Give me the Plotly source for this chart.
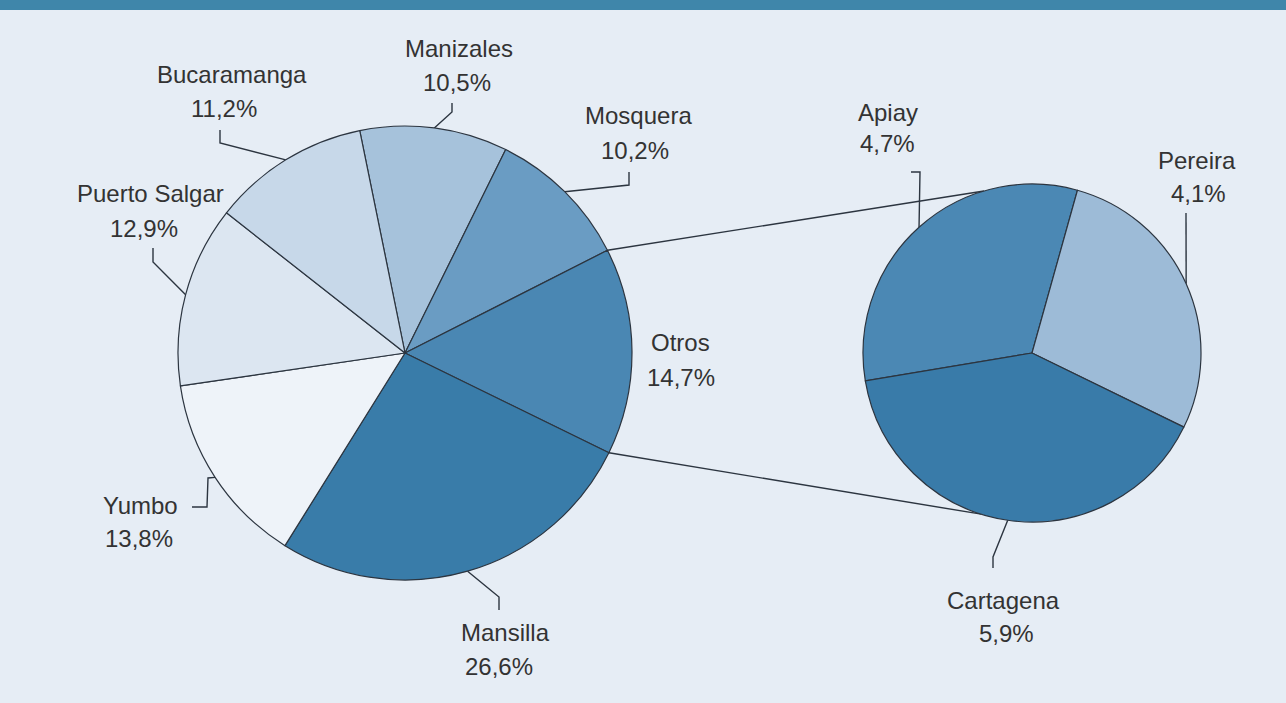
import math
import plotly.graph_objects as go

W, H = 1286, 703

# Main pie: share by plant (%)
main_labels = ["Manizales", "Mosquera", "Otros", "Mansilla", "Yumbo", "Puerto Salgar", "Bucaramanga"]
main_values = [10.5, 10.2, 14.7, 26.6, 13.8, 12.9, 11.2]
main_colors = ["#a6c2db", "#6a9cc3", "#4a87b3", "#397ca9", "#eef3f9", "#dce6f1", "#c7d8e9"]

# Breakdown of "Otros" (%)
sub_labels = ["Apiay", "Pereira", "Cartagena"]
sub_values = [4.7, 4.1, 5.9]
sub_colors = ["#4b88b4", "#9dbbd7", "#397ba9"]

# Geometry in pixels
MAIN_C, MAIN_R = (405, 353), 227
SUB_C, SUB_R = (1032, 353), 169
MAIN_START = 101.5    # math angle (deg) where the first slice starts; slices run clockwise
SUB_START = 189.5
SUB_LINK_ANGLES = (106.5, -107.5)   # where the connector lines meet the small pie

TEXT = "#333333"
EDGE = "#2c3540"
BG = "#e6edf5"
FONT = "Liberation Sans, Arial, sans-serif"

# Label placement: name centre, percentage centre, leader elbow points
main_layout = {
    "Manizales":     ((459, 48), (457, 82), [(452, 103), (452, 112)]),
    "Mosquera":      ((638, 115), (635, 150), [(629, 172), (629, 185)]),
    "Otros":         ((680, 342), (681, 377), None),
    "Mansilla":      ((505, 632), (499, 666), [(499, 610), (499, 597)]),
    "Yumbo":         ((140, 505), (139, 538), [(192, 507), (207, 507), (208, 478)]),
    "Puerto Salgar": ((150, 193), (144, 228), [(153, 248), (153, 262)]),
    "Bucaramanga":   ((232, 74), (224, 108), [(220, 130), (220, 143)]),
}
sub_layout = {
    "Apiay":     ((888, 112), (887, 143), [(911, 172), (920, 172)]),
    "Pereira":   ((1197, 160), (1198, 193), [(1186, 213)]),
    "Cartagena": ((1003, 600), (1006, 633), [(993, 568), (993, 557)]),
}


def slice_angles(values, start):
    total = sum(values)
    spans, a = [], start
    for v in values:
        b = a - v / total * 360.0
        spans.append((a, b))
        a = b
    return spans


def on_circle(c, r, ang):
    t = math.radians(ang)
    return (c[0] + r * math.cos(t), c[1] - r * math.sin(t))


def domain(c, r):
    return dict(x=[(c[0] - r) / W, (c[0] + r) / W],
                y=[(H - c[1] - r) / H, (H - c[1] + r) / H])


def pct(v):
    return f"{v:.1f}".replace(".", ",") + "%"


fig = go.Figure()


def add_line(points):
    fig.add_trace(go.Scatter(
        x=[p[0] for p in points], y=[p[1] for p in points],
        mode="lines", line=dict(color=EDGE, width=1.4),
        hoverinfo="skip", showlegend=False, xaxis="x", yaxis="y"))


main_spans = slice_angles(main_values, MAIN_START)
sub_spans = slice_angles(sub_values, SUB_START)

# Connectors from the "Otros" wedge to the breakdown pie
otros = main_spans[main_labels.index("Otros")]
add_line([on_circle(MAIN_C, MAIN_R, otros[0]), on_circle(SUB_C, SUB_R, SUB_LINK_ANGLES[0])])
add_line([on_circle(MAIN_C, MAIN_R, otros[1]), on_circle(SUB_C, SUB_R, SUB_LINK_ANGLES[1])])

annotations = []


def label_block(names, values, spans, layout, c, r):
    for name, v, (a, b) in zip(names, values, spans):
        name_pos, pct_pos, elbow = layout[name]
        for text, (px, py) in ((name, name_pos), (pct(v), pct_pos)):
            annotations.append(dict(
                x=px, y=py, xref="x", yref="y", text=text, showarrow=False,
                xanchor="center", yanchor="middle",
                font=dict(size=24, color=TEXT, family=FONT)))
        if elbow:
            add_line(elbow + [on_circle(c, r, (a + b) / 2)])


label_block(main_labels, main_values, main_spans, main_layout, MAIN_C, MAIN_R)
label_block(sub_labels, sub_values, sub_spans, sub_layout, SUB_C, SUB_R)

fig.add_trace(go.Pie(
    labels=main_labels, values=main_values, sort=False, direction="clockwise",
    rotation=90 - MAIN_START, domain=domain(MAIN_C, MAIN_R),
    marker=dict(colors=main_colors, line=dict(color=EDGE, width=1.2)),
    textinfo="none", hoverinfo="label+percent", showlegend=False))

fig.add_trace(go.Pie(
    labels=sub_labels, values=sub_values, sort=False, direction="clockwise",
    rotation=90 - SUB_START, domain=domain(SUB_C, SUB_R),
    marker=dict(colors=sub_colors, line=dict(color=EDGE, width=1.2)),
    textinfo="none", hoverinfo="label+percent", showlegend=False))

fig.update_layout(
    width=W, height=H,
    margin=dict(l=0, r=0, t=0, b=0),
    paper_bgcolor=BG, plot_bgcolor="rgba(0,0,0,0)",
    xaxis=dict(range=[0, W], domain=[0, 1], visible=False, fixedrange=True),
    yaxis=dict(range=[H, 0], domain=[0, 1], visible=False, fixedrange=True),
    annotations=annotations,
    shapes=[dict(type="rect", xref="paper", yref="paper",
                 x0=0, x1=1, y0=1 - 10 / H, y1=1,
                 fillcolor="#3f86aa", line=dict(width=0), layer="above")],
    showlegend=False,
)

fig.write_html("out.html", config={"displayModeBar": False})
